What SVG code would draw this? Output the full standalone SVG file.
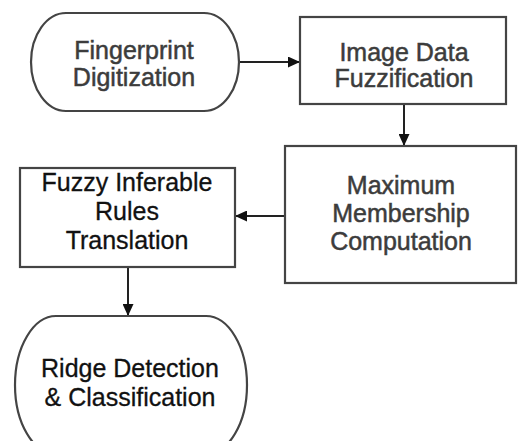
<svg xmlns="http://www.w3.org/2000/svg" width="518" height="441" viewBox="0 0 518 441">
<defs>
<marker id="arr" markerUnits="userSpaceOnUse" markerWidth="13" markerHeight="11" refX="12" refY="5.5" orient="auto">
<path d="M0,0 L12,5.5 L0,11 Z" fill="#111"/>
</marker>
<style>
.shape{fill:#fff;stroke:#444;stroke-width:2.2}
.t{font-family:"Liberation Sans",Arial,sans-serif;font-size:25px;text-anchor:middle}
.g{fill:#3c3c3c;stroke:#3c3c3c;stroke-width:0.5}
.k{fill:#111;stroke:#111;stroke-width:0.3}
.conn{stroke:#222;stroke-width:2;fill:none;marker-end:url(#arr)}
</style>
</defs>
<rect width="518" height="441" fill="#fff"/>
<g id="connectors">
<line class="conn" x1="239" y1="62" x2="300" y2="62"/>
<line class="conn" x1="404" y1="104" x2="404" y2="146"/>
<line class="conn" x1="285" y1="216" x2="235" y2="216"/>
<line class="conn" x1="128" y1="267" x2="128" y2="316"/>
</g>
<g id="node-fingerprint">
<path class="shape" d="M66,13 H204 A35,49 0 0 1 204,111 H66 A35,49 0 0 1 66,13 Z"/>
<text class="t g" x="134" y="59">Fingerprint</text>
<text class="t g" x="134" y="86">Digitization</text>
</g>
<g id="node-fuzzification">
<rect class="shape" x="300" y="17" width="206" height="87"/>
<text class="t g" x="404" y="61">Image Data</text>
<text class="t g" x="404" y="87">Fuzzification</text>
</g>
<g id="node-membership">
<rect class="shape" x="285" y="146" width="231" height="137"/>
<text class="t g" x="401" y="194">Maximum</text>
<text class="t g" x="401" y="222">Membership</text>
<text class="t g" x="401" y="250">Computation</text>
</g>
<g id="node-rules">
<rect class="shape" x="20" y="168" width="215" height="99"/>
<text class="t k" x="127" y="191">Fuzzy Inferable</text>
<text class="t k" x="127" y="220">Rules</text>
<text class="t k" x="127" y="249">Translation</text>
</g>
<g id="node-ridge">
<path class="shape" d="M56,316 H206 A41,69 0 0 1 206,454 H56 A41,69 0 0 1 56,316 Z"/>
<text class="t k" x="130" y="377">Ridge Detection</text>
<text class="t k" x="130" y="406">&amp; Classification</text>
</g>
</svg>
